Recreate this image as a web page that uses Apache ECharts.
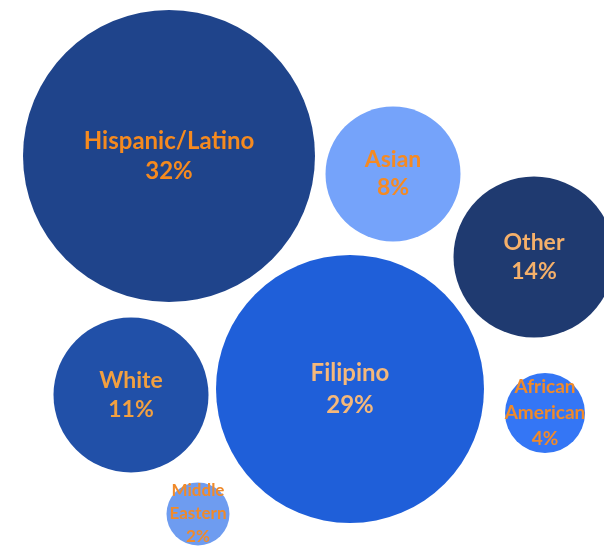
<!DOCTYPE html>
<html>
<head>
<meta charset="utf-8">
<script src="https://cdn.jsdelivr.net/npm/echarts@6/dist/echarts.min.js"></script>
<style>
  html, body { margin: 0; padding: 0; background: #fff; }
  #main { width: 604px; height: 548px; }
</style>
</head>
<body>
<div id="main"></div>
<script>
// groups and their share (%)
var names = ['Hispanic/Latino', 'Asian', 'Other', 'Filipino', 'White', 'African American', 'Middle Eastern'];
var shares = [32, 8, 14, 29, 11, 4, 2];
// bubble layout: centre x / y and diameter
var bubbleX = [169, 393, 534, 350, 131, 545, 198];
var bubbleY = [156, 174, 257, 389, 395, 413, 514];
var bubbleD = [292, 135, 161, 268, 155, 80, 63];

var fills = ['#1f448b', '#75a3fa', '#1f3a70', '#1f5fd9', '#2150a8', '#3476f5', '#6e9cf0'];
var textColors = ['#f58a1f', '#f58a22', '#f5b06a', '#f5b87a', '#f2a040', '#f08a2a', '#f08a2a'];
var fontSizes = [24, 23, 23, 24, 23, 19, 17];
var lineHeights = [30, 28, 29, 32, 29, 26, 23];

var myChart = echarts.init(document.getElementById('main'));

var points = names.map(function (n, i) {
    return {
        name: n,
        value: [bubbleX[i], bubbleY[i], bubbleD[i], shares[i]],
        itemStyle: { color: fills[i], opacity: 1 },
        label: {
            color: textColors[i],
            fontSize: fontSizes[i],
            lineHeight: lineHeights[i]
        }
    };
});

myChart.setOption({
    animation: false,
    grid: { left: 0, right: 0, top: 0, bottom: 0 },
    xAxis: { type: 'value', min: 0, max: 604, show: false },
    yAxis: { type: 'value', min: 0, max: 548, inverse: true, show: false },
    series: [{
        type: 'scatter',
        clip: false,
        symbol: 'circle',
        symbolSize: function (v) { return v[2]; },
        data: points,
        emphasis: { disabled: true },
        label: {
            show: true,
            position: 'inside',
            fontFamily: 'Lato',
            fontWeight: 'bold',
            align: 'center',
            formatter: function (p) {
                var n = p.name.indexOf('/') >= 0 ? p.name : p.name.replace(' ', '\n');
                return n + '\n' + p.value[3] + '%';
            }
        }
    }]
});
</script>
</body>
</html>
